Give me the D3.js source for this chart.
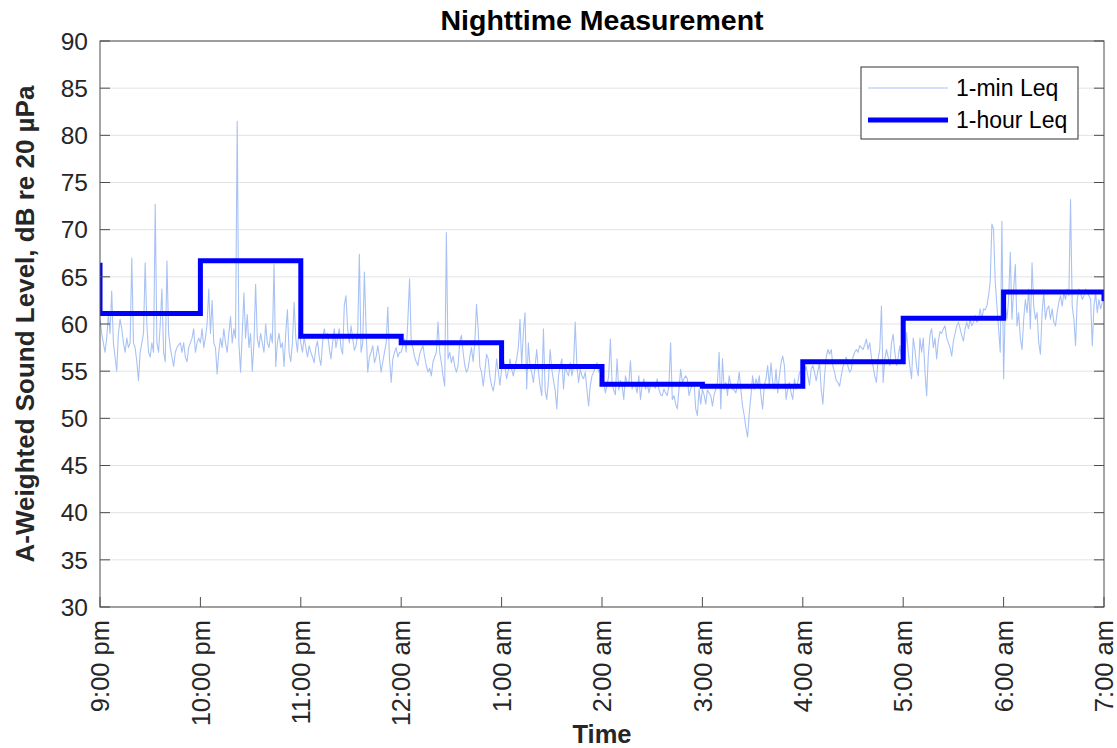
<!DOCTYPE html>
<html lang="en">
<head>
<meta charset="UTF-8">
<title>Nighttime Measurement</title>
<script src="https://d3js.org/d3.v7.min.js"></script>
<style>
  body { margin: 0; background: #fff; }
  svg { display: block; font-family: "Liberation Sans", Arial, sans-serif; }
</style>
</head>
<body>
<svg id="chart" width="1117" height="748"></svg>
<script>
(function () {
  'use strict';

  // 1-min Leq, one array per hour (60 values each), dB
  const leq21 = [60.5,59,58,57,58.5,61,59,63.5,58,56.5,55,59,60.5,59.5,58,57,58.5,57.5,58,67,
    58,57.5,56,54,57,58,59,66.5,60,57,56.5,58,57,72.7,58,57,60,63.7,57,56,
    66.7,59,57.5,56.5,55.5,57,57.5,57.8,58,57,58,56.5,56,57.5,58,58.5,59.5,57,58,58.5];
  const leq22 = [58,59.5,57.5,58.5,60,63.7,59,62.5,58,57.5,54.7,57,58.5,57.5,59.5,58,57,59,60.8,58,
    59.5,58.5,81.5,58,54.9,59,63.3,58.5,61,57.5,59,55,58,64.2,58.5,57.5,59,58,57,60,
    58,57.5,59,58,66.3,55.5,58,59,57.5,58,55.5,59,61.5,57,56,58,62.3,58.5,57,60];
  const leq23 = [58,57,58.6,57.5,56.5,57.7,57,56.5,55.9,57.5,58.2,56.5,55.6,58,59.5,58.5,59,57.5,56.3,58,
    59.5,57.5,58.5,59.5,57.5,56.8,62,63,59.5,58,59.8,58.5,57.2,57.7,59,67.4,57,58,65.5,59.5,
    54.9,56.5,57,57.7,55.9,56.5,57.7,56.5,54.9,56,57,58,61.8,56.3,53.8,56.3,57,57.5,56.5,57];
  const leq00 = [57,57.7,58.4,57,60.5,64.8,58,57.5,56.5,56,55.6,56.8,57.3,57.7,56.5,55.6,54.9,55.3,54.5,56,
    56.5,57,60.2,57,55.9,54.5,53.4,69.7,56.3,57,55.9,56.6,55.5,54.9,55.6,58.2,58.8,57,55.6,54.9,
    55.3,56.5,57.5,56,58,62.1,59.5,55.5,54.9,53.4,55,56.8,56.3,54.5,53.5,52.9,54,56.3,55,53.5];
  const leq01 = [55.2,56.3,55.5,54.2,55,56.3,55.2,54.5,55.5,56.3,57.5,60.5,55.6,59.1,61.2,53.1,58,55.5,54.9,53.8,
    55.5,57.3,55,53.4,52.4,59.5,53,52,54,57.3,55.2,54,53,51,54.5,55.5,56.3,53.1,55.6,54.9,
    54.5,55.9,54.5,55.5,60.2,55.6,53.8,55.2,54.5,54.2,54.9,53,51.3,53.5,54.5,54.9,55.5,55.9,54.9,55.2];
  const leq02 = [54,53.8,52.7,53.5,54.5,58.4,53.8,53,52.5,56.3,53,54,53.5,52,54.5,53.8,53.5,56.1,53.1,53.8,
    53.5,52.7,54.5,52,53.5,54.2,53.1,53.8,52.7,53.5,53.8,53.4,53.2,54.2,53.1,52.5,52.4,53.1,52.7,52.4,
    53.5,58,52,52.4,51.5,51,53.1,55.2,53.8,54.2,54.5,54.2,52.4,53.1,53.5,53.8,51,50.3,53.1,51.5];
  const leq03 = [53.1,52.5,51.5,53,52.7,52.4,51.3,52.5,53.1,53.8,57,51,56.3,53.1,53.8,52.4,54.5,53.5,53.1,53,
    52.7,53.5,54.9,53,51.3,50.3,49,48,50.5,52.4,54.5,53.1,54.2,53.5,54.5,52.4,51,53.5,54.2,55.6,
    53.4,55.9,53.8,53.1,55.2,52.7,54.5,55.9,56.6,55.6,52,53.1,53.8,52.7,52,54.2,53.1,53.8,54.9,55];
  const leq04 = [54.2,55,55.5,54.5,53.5,55.2,55.6,54.9,54,55,55.9,53.1,51.5,54.5,56.5,57.3,56.8,57.3,55.5,54.9,
    54,53.8,53.4,54.5,55.5,55.9,56.5,55.5,54.9,55.2,56.5,57,57.3,57,57.7,57.5,57.3,57.8,58.4,57.3,
    58,56.5,55.5,54.5,53.8,56.3,57.3,61.9,53.8,56.3,57.3,56.5,55.6,58,58.9,57,55.6,56.5,57.7,56];
  const leq05 = [56,56.6,59.1,57,55.5,54.2,58.5,57.3,55.5,54.5,58.5,57,58.5,55,52.4,56.6,58.8,59.5,57.5,58.5,
    56.3,58.2,59.2,59,59.5,59.8,58.5,58,57.5,56.6,58.2,59,59.8,60.2,59.5,58.8,58.2,59.5,60.2,59.5,
    60.5,59.8,60.2,60.9,60.2,60.5,61.6,60.5,61.6,61.5,61.9,63,64.5,70.6,70,64.5,61.9,59.5,57,70.9];
  const leq06 = [54.2,61.9,60.5,62.6,67.6,60.5,63.7,66.3,59.8,61.2,58.5,57.3,60.5,62.6,61.2,63.7,59.5,66.5,61.9,60.5,
    61.2,58,56.8,61.2,63.3,60.5,61.6,61.9,60.5,61.6,60.2,59.8,61.2,62.3,63,61.9,63.3,62.6,63.7,63,
    73.2,61.9,60.5,57.7,62.6,63.7,63.3,62.6,63,63.7,63.3,63,62.6,57.7,61.9,63.3,61.2,62.6,61.6,62.3];

  // 1-hour Leq per hour, plus the values drawn at the two edges
  const hourlyLeq = [61.1, 66.7, 58.7, 58.0, 55.5, 53.6, 53.4, 56.0, 60.6, 63.4];
  const startLeq = 66.5;
  const endLeq = 62.4;

  const hourLabels = ["9:00 pm", "10:00 pm", "11:00 pm", "12:00 am", "1:00 am", "2:00 am",
    "3:00 am", "4:00 am", "5:00 am", "6:00 am", "7:00 am"];
  const yTickValues = [30, 35, 40, 45, 50, 55, 60, 65, 70, 75, 80, 85, 90];
  const legendLabels = ["1-min Leq", "1-hour Leq"];

  const minuteLeq = [].concat(leq21, leq22, leq23, leq00, leq01, leq02, leq03, leq04, leq05, leq06);

  const margin = { left: 100, right: 1104, top: 41, bottom: 607 };
  const svg = d3.select("#chart");

  const x = d3.scaleLinear().domain([0, 600]).range([margin.left, margin.right]);
  const y = d3.scaleLinear().domain([30, 90]).range([margin.bottom, margin.top]);

  const axisColor = "#4d4d4d";

  // grid
  svg.append("g")
      .selectAll("line")
      .data(yTickValues)
      .join("line")
      .attr("x1", margin.left).attr("x2", margin.right)
      .attr("y1", d => y(d)).attr("y2", d => y(d))
      .attr("stroke", "#e3e3e3")
      .attr("stroke-width", 1);

  svg.append("clipPath").attr("id", "plotClip")
      .append("rect")
      .attr("x", margin.left).attr("y", margin.top)
      .attr("width", margin.right - margin.left)
      .attr("height", margin.bottom - margin.top);

  const plot = svg.append("g").attr("clip-path", "url(#plotClip)");

  const line = d3.line().x(d => x(d[0])).y(d => y(d[1]));

  plot.append("path")
      .datum(minuteLeq.map((v, i) => [i, v]))
      .attr("fill", "none")
      .attr("stroke", "#a9c2f4")
      .attr("stroke-width", 1.1)
      .attr("stroke-linejoin", "round")
      .attr("d", line);

  // hourly steps
  const stepPts = [[0, startLeq]];
  hourlyLeq.forEach((v, i) => { stepPts.push([i * 60, v]); stepPts.push([(i + 1) * 60, v]); });
  stepPts.push([600, endLeq]);

  plot.append("path")
      .datum(stepPts)
      .attr("fill", "none")
      .attr("stroke", "#0000ff")
      .attr("stroke-width", 5)
      .attr("stroke-linejoin", "miter")
      .attr("d", line);

  // box
  svg.append("rect")
      .attr("x", margin.left).attr("y", margin.top)
      .attr("width", margin.right - margin.left)
      .attr("height", margin.bottom - margin.top)
      .attr("fill", "none")
      .attr("stroke", axisColor)
      .attr("stroke-width", 1);

  // y axis, ticks inward on both sides
  const yAxis = svg.append("g");
  yAxis.selectAll("line.l")
      .data(yTickValues)
      .join("line")
      .attr("class", "l")
      .attr("x1", margin.left).attr("x2", margin.left + 10)
      .attr("y1", d => y(d)).attr("y2", d => y(d))
      .attr("stroke", axisColor);
  yAxis.selectAll("line.r")
      .data(yTickValues)
      .join("line")
      .attr("class", "r")
      .attr("x1", margin.right - 10).attr("x2", margin.right)
      .attr("y1", d => y(d)).attr("y2", d => y(d))
      .attr("stroke", axisColor);
  yAxis.selectAll("text")
      .data(yTickValues)
      .join("text")
      .attr("x", margin.left - 12)
      .attr("y", d => y(d))
      .attr("dy", "0.36em")
      .attr("text-anchor", "end")
      .attr("font-size", 24.5)
      .attr("fill", "#262626")
      .text(d => d);

  // x axis
  const xTickValues = hourLabels.map((d, i) => i * 60);
  const xAxis = svg.append("g");
  xAxis.selectAll("line")
      .data(xTickValues)
      .join("line")
      .attr("x1", d => x(d)).attr("x2", d => x(d))
      .attr("y1", margin.bottom).attr("y2", margin.bottom - 10)
      .attr("stroke", axisColor);
  xAxis.selectAll("text")
      .data(hourLabels)
      .join("text")
      .attr("transform", (d, i) => `translate(${x(xTickValues[i])},${margin.bottom + 13}) rotate(-90)`)
      .attr("dy", "0.36em")
      .attr("text-anchor", "end")
      .attr("font-size", 25.5)
      .attr("fill", "#262626")
      .text(d => d);

  // titles
  svg.append("text")
      .attr("x", (margin.left + margin.right) / 2)
      .attr("y", 30)
      .attr("text-anchor", "middle")
      .attr("font-size", 28.5)
      .attr("font-weight", "bold")
      .attr("fill", "#000")
      .text("Nighttime Measurement");

  svg.append("text")
      .attr("x", (margin.left + margin.right) / 2)
      .attr("y", 743)
      .attr("text-anchor", "middle")
      .attr("font-size", 25.5)
      .attr("font-weight", "bold")
      .attr("fill", "#262626")
      .text("Time");

  svg.append("text")
      .attr("transform", `translate(34,${(margin.top + margin.bottom) / 2}) rotate(-90)`)
      .attr("text-anchor", "middle")
      .attr("font-size", 26)
      .attr("font-weight", "bold")
      .attr("fill", "#262626")
      .text("A-Weighted Sound Level, dB re 20 µPa");

  // legend
  const legend = svg.append("g").attr("transform", "translate(861,67)");
  legend.append("rect")
      .attr("width", 217).attr("height", 72)
      .attr("fill", "#fff")
      .attr("stroke", "#333")
      .attr("stroke-width", 1);
  const legendStyles = [{ color: "#a9c2f4", width: 1.1 }, { color: "#0000ff", width: 5 }];
  const rows = legend.selectAll("g.row")
      .data(legendLabels)
      .join("g")
      .attr("class", "row")
      .attr("transform", (d, i) => `translate(0,${21 + i * 32})`);
  rows.append("line")
      .attr("x1", 7).attr("x2", 87)
      .attr("stroke", (d, i) => legendStyles[i].color)
      .attr("stroke-width", (d, i) => legendStyles[i].width);
  rows.append("text")
      .attr("x", 95)
      .attr("dy", "0.36em")
      .attr("font-size", 23)
      .attr("fill", "#000")
      .text(d => d);
}());
</script>
</body>
</html>
